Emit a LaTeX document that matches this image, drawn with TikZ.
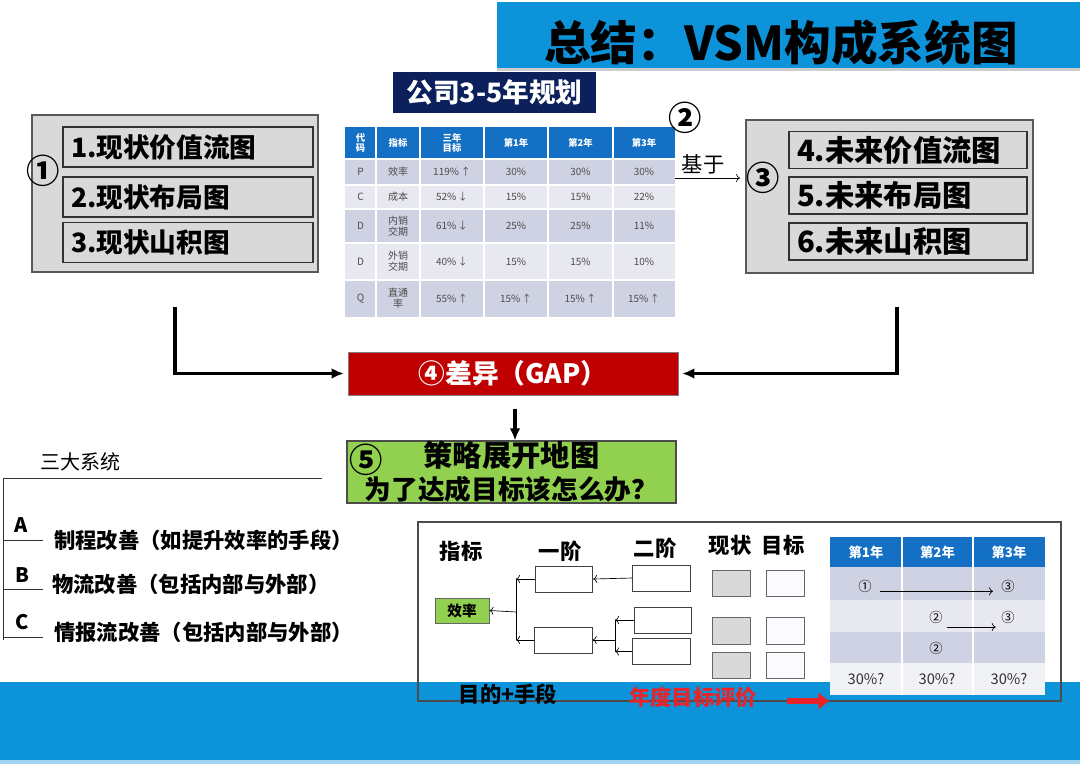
\documentclass[tikz,border=0pt]{standalone}
\usepackage{fontspec}
\setmainfont{Noto Sans CJK SC}
\usetikzlibrary{arrows.meta,positioning}

\definecolor{bandblue}{RGB}{12,147,218}
\definecolor{navy}{RGB}{12,33,92}
\definecolor{boxgray}{RGB}{217,217,217}
\definecolor{hdblue}{RGB}{20,112,196}
\definecolor{rowdark}{RGB}{207,210,226}
\definecolor{rowlight}{RGB}{232,233,240}
\definecolor{gapred}{RGB}{192,0,0}
\definecolor{leafgreen}{RGB}{146,208,80}
\definecolor{evalred}{RGB}{232,36,40}

\newcommand{\fs}[1]{\fontsize{#1}{#1}\selectfont}

\tikzset{
  mapbox/.style={draw=black!65, fill=boxgray, line width=0.9pt, inner sep=0pt},
  mapitem/.style={draw=black!80, fill=boxgray, line width=0.8pt, inner xsep=6pt, inner ysep=0pt, align=left, font=\bfseries\fs{20}},
  circnum/.style={inner sep=0pt, font=\bfseries\fs{25}},
  bigarrow/.style={line width=2.4pt, -{Latex[length=9pt,width=8pt]}},
  thinarrow/.style={line width=0.5pt, -{To[length=3pt,width=6pt]}},
  cell/.style={inner sep=0pt, font=\fontsize{7.5}{8.5}\selectfont, text=black!70, align=center},
  hcell/.style={inner sep=0pt, font=\bfseries\fontsize{7}{8}\selectfont, text=white, align=center},
  stepbox/.style={draw=black!75, fill=white, line width=0.7pt, minimum width=43pt, minimum height=19.5pt, inner sep=0pt},
  nowbox/.style={draw=black!60, fill=boxgray, line width=0.7pt, minimum width=28.5pt, minimum height=20pt, inner sep=0pt},
  goalbox/.style={draw=black!60, fill=blue!2, line width=0.7pt, minimum width=28.5pt, minimum height=20pt, inner sep=0pt},
  panelhead/.style={inner sep=0pt, font=\bfseries\fs{16}},
  listtext/.style={inner sep=0pt, anchor=west, font=\bfseries\fs{16}}
}

\begin{document}
\begin{tikzpicture}[x=0.75pt,y=-0.75pt]
\useasboundingbox (0,0) rectangle (1080,764);

% bands
\fill[bandblue] (0,682) rectangle (1080,760);
\fill[bandblue!40] (0,760) rectangle (1080,764);
\fill[black!20] (497,68) rectangle (1080,71);
\fill[bandblue] (497,2) rectangle (1080,68);
\node[inner sep=0pt, font=\bfseries\fs{35}] (title) at (781,43) {总结：VSM构成系统图};

\node[fill=navy, text=white, font=\bfseries\fs{20}, minimum width=152.25pt, minimum height=30.75pt, inner sep=0pt] (plan) at (494.5,92.5) {公司3-5年规划};

% current state
\node[mapbox, minimum width=214.5pt, minimum height=117.75pt] (cur) at (175,193.5) {};
\node[mapitem, text width=175.5pt, minimum height=30pt] (cur1) at (188,147) {1.现状价值流图};
\node[mapitem, text width=175.5pt, minimum height=30pt] (cur2) at (188,197) {2.现状布局图};
\node[mapitem, text width=175.5pt, minimum height=30pt] (cur3) at (188,242.5) {3.现状山积图};
\node[circnum] (n1) at (43,171) {①};

% future state
\node[mapbox, minimum width=215.25pt, minimum height=114.75pt] (fut) at (889.5,196.5) {};
\node[mapitem, text width=166.5pt, minimum height=27.75pt, font=\bfseries\fs{22}] (fut1) at (908,150) {4.未来价值流图};
\node[mapitem, text width=166.5pt, minimum height=27.75pt, font=\bfseries\fs{22}] (fut2) at (908,195.5) {5.未来布局图};
\node[mapitem, text width=166.5pt, minimum height=27.75pt, font=\bfseries\fs{22}] (fut3) at (908,241.5) {6.未来山积图};
\node[circnum] (n3) at (763,178) {③};

% plan table
\fill[hdblue] (345,127) rectangle (675,159);
\foreach \ya/\yb/\fc in {159/185/rowdark,185/209/rowlight,209/243/rowdark,243/280/rowlight,280/317/rowdark}
  \fill[\fc] (345,\ya) rectangle (675,\yb);
\foreach \xg in {376,420,484,548,613}
  \draw[white,line width=1.5pt] (\xg,127) -- (\xg,317);
\foreach \yg in {159,185,209,243,280}
  \draw[white,line width=1.5pt] (345,\yg) -- (675,\yg);
\foreach \xc/\t [count=\i] in {360.5/{代\\码},398/指标,452/{三年\\目标},516/第1年,580.5/第2年,644/第3年}
  \node[hcell] (h\i) at (\xc,143) {\t};
\foreach \yc/\ca/\cb/\cc/\cd/\ce/\cf [count=\i] in {
    172/P/效率/119\%\,↑/30\%/30\%/30\%,
    197/C/成本/52\%\,↓/15\%/15\%/22\%,
    226/D/{内销\\交期}/61\%\,↓/25\%/25\%/11\%,
    261.5/D/{外销\\交期}/40\%\,↓/15\%/15\%/10\%,
    298.5/Q/{直通\\率}/55\%\,↑/15\%\,↑/15\%\,↑/15\%\,↑}
{
  \node[cell] (r\i-a) at (360.5,\yc) {\ca};
  \node[cell] (r\i-b) at (398,\yc) {\cb};
  \node[cell] (r\i-c) at (452,\yc) {\cc};
  \node[cell] (r\i-d) at (516,\yc) {\cd};
  \node[cell] (r\i-e) at (580.5,\yc) {\ce};
  \node[cell] (r\i-f) at (644,\yc) {\cf};
}

\node[circnum] (n2) at (685,118) {②};
\node[inner sep=0pt, font=\fs{16}] (based) at (703,164) {基于};
\coordinate (tabr) at (675,178);
\draw[thinarrow] (tabr) -- ([xshift=-4pt]fut.west |- tabr);

% gap
\node[draw=black!50, fill=gapred, text=white, font=\bfseries\fs{20}, minimum width=247.5pt, minimum height=32.25pt, inner sep=0pt] (gap) at (513,373.5) {④差异（GAP）};
\coordinate (lstart) at (175,307);
\coordinate (rstart) at (897,307);
\draw[bigarrow, shorten >=3pt] (lstart) |- (gap.west);
\draw[bigarrow, shorten >=3pt] (rstart) |- (gap.east);

\node[draw=black!70, fill=leafgreen, line width=0.8pt, minimum width=246.75pt, minimum height=46.5pt, inner sep=0pt, align=center] (strat) at (511.5,472)
  {{\bfseries\fs{22}策略展开地图}\\[4pt]{\bfseries\fs{20}为了达成目标该怎么办？}};
\node[circnum, anchor=west] (n5) at ([xshift=2pt,yshift=9pt]strat.west) {⑤};
\draw[bigarrow] ([yshift=-10pt]gap.south -| 515,0) -- (strat.north -| 515,0);

% three systems
\node[inner sep=0pt, font=\fs{15}] (sys) at (80,462) {三大系统};
\draw[black!80, line width=0.7pt] (322,478) -- (3,478) -- (3,640);
\foreach \yl in {540,589,637}
  \draw[black!80, line width=0.7pt] (3,\yl) -- (43,\yl);
\node[inner sep=0pt, font=\bfseries\fs{15}] (la) at (21,525) {A};
\node[inner sep=0pt, font=\bfseries\fs{15}] (lb) at (22,575) {B};
\node[inner sep=0pt, font=\bfseries\fs{15}] (lc) at (22,622) {C};
\node[listtext] (sa) at (54,540) {制程改善（如提升效率的手段）};
\node[listtext] (sb) at (52,584) {物流改善（包括内部与外部）};
\node[listtext] (sc) at (54,632) {情报流改善（包括内部与外部）};

% strategy panel
\node[panelhead] (hk) at (461,551) {指标};
\node[panelhead] (h1st) at (560,551) {一阶};
\node[panelhead] (h2nd) at (655,548) {二阶};
\node[panelhead] (hnow) at (730,545) {现状};
\node[panelhead] (hgoal) at (783,545) {目标};

\node[draw=black!60, fill=leafgreen, line width=0.7pt, minimum width=40.5pt, minimum height=18.75pt, inner sep=0pt, font=\bfseries\fs{11}] (eff) at (462,610.5) {效率};
\node[stepbox] (a1) at (564,579) {};
\node[stepbox] (a2) at (563.5,640) {};
\node[stepbox] (b1) at (661.5,578) {};
\node[stepbox] (b2) at (663,620) {};
\node[stepbox] (b3) at (661.5,651.5) {};
\coordinate (t0) at (516,612);
\coordinate (t1) at (615,640);
\draw[line width=0.5pt] (t0 |- a1) -- (t0 |- a2);
\draw[thinarrow] (t0) -- (eff.east);
\draw[thinarrow] (a1.west) -- (t0 |- a1);
\draw[thinarrow] (a2.west) -- (t0 |- a2);
\draw[thinarrow] (b1.west) -- (a1.east);
\draw[line width=0.5pt] (t1 |- b2) -- (t1 |- b3);
\draw[thinarrow] (t1) -- (a2.east);
\draw[thinarrow] (b2.west) -- (t1 |- b2);
\draw[thinarrow] (b3.west) -- (t1 |- b3);
\foreach \yc [count=\i] in {583.5,631,665.5} {
  \node[nowbox] (now\i) at (731,\yc) {};
  \node[goalbox] (goal\i) at (785,\yc) {};
}

% yearly table
\fill[hdblue] (830,537) rectangle (1045,567);
\foreach \ya/\yb/\fc in {567/600/rowdark,600/632/rowlight,632/663/rowdark,663/695/rowlight!60!white}
  \fill[\fc] (830,\ya) rectangle (1045,\yb);
\foreach \xg in {902,973}
  \draw[white,line width=1.2pt] (\xg,537) -- (\xg,695);
\foreach \xc [count=\i] in {866,937.5,1009}
  \node[inner sep=0pt, text=white, font=\bfseries\fs{10}] (y\i) at (\xc,552) {第\i 年};
\node[inner sep=0pt, font=\fs{10}] (k1) at (865,586) {①};
\node[inner sep=0pt, font=\fs{10}] (k3) at (1008,586) {③};
\node[inner sep=0pt, font=\fs{10}] (k4) at (936,617) {②};
\node[inner sep=0pt, font=\fs{10}] (k5) at (1008,617) {③};
\node[inner sep=0pt, font=\fs{10}] (k6) at (936,648) {②};
\draw[thinarrow] ([shift={(6pt,-4pt)}]k1.east) -- ([shift={(-6pt,-4pt)}]k3.west);
\draw[thinarrow] ([shift={(3pt,-7.5pt)}]k4.east) -- ([shift={(-4pt,-7.5pt)}]k5.west);
\foreach \xc [count=\i] in {866,937,1009}
  \node[inner sep=0pt, text=black!80, font=\fs{11}] (pc\i) at (\xc,679) {30\%?};

\draw[black!70, line width=0.9pt] (418,522) rectangle (1061,701);
\node[inner sep=0pt, font=\bfseries\fs{16}] (aim) at (508,694) {目的+手段};
\node[inner sep=0pt, text=evalred, font=\bfseries\fs{16}] (eval) at (693,697) {年度目标评价};
\draw[evalred, line width=4pt, -{Triangle[length=8pt,width=12pt]}] ([xshift=22pt,yshift=-3pt]eval.east) -- ([yshift=-3pt]eval.east -| 829,0);

\end{tikzpicture}
\end{document}
